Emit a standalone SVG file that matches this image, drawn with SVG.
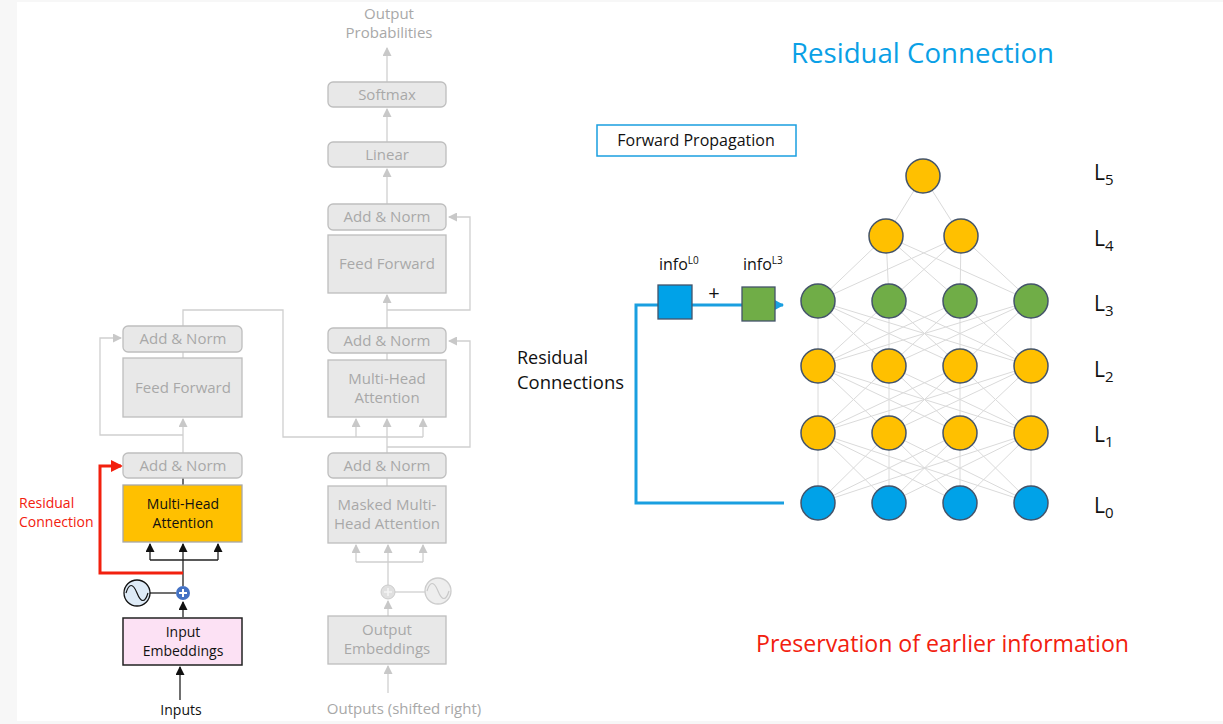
<svg xmlns="http://www.w3.org/2000/svg" width="1223" height="724" viewBox="0 0 1223 724">
<style>
text{font-family:"Open Sans","Noto Sans","Liberation Sans",sans-serif}
.gbox{fill:#E8E8E8;stroke:#BEBEBE;stroke-width:1.3}
.gtxt{fill:#A8A8A8;font-size:15px;text-anchor:middle}
.btxt{fill:#111;font-size:14px;text-anchor:middle}
.gline{stroke:#CFCFCF;fill:none;stroke-width:1.3}
.bline{stroke:#222;fill:none;stroke-width:1.3}
.edge{stroke:#DADADA;fill:none;stroke-width:1}
.orange{fill:#FFC000;stroke:#44546A;stroke-width:1.5}
.green{fill:#70AD47;stroke:#44546A;stroke-width:1.5}
.blue{fill:#00A2E8;stroke:#44546A;stroke-width:1.5}
.lab{fill:#111;font-size:21px}
</style>
<defs>
<marker id="ag" markerUnits="userSpaceOnUse" markerWidth="9" markerHeight="9" refX="8" refY="4.5" orient="auto"><path d="M0,0L9,4.5L0,9z" fill="#C8C8C8"/></marker>
<marker id="ab" markerUnits="userSpaceOnUse" markerWidth="9" markerHeight="9" refX="8" refY="4.5" orient="auto"><path d="M0,0L9,4.5L0,9z" fill="#111"/></marker>
<marker id="ar" markerUnits="userSpaceOnUse" markerWidth="12" markerHeight="12" refX="10" refY="6" orient="auto"><path d="M0,0L12,6L0,12z" fill="#F2200E"/></marker>
<marker id="abl" markerUnits="userSpaceOnUse" markerWidth="11" markerHeight="12" refX="10" refY="6" orient="auto"><path d="M0,0L11,6L0,12z" fill="#1A9FE0"/></marker>
</defs>
<rect x="0" y="0" width="1223" height="724" fill="#F7F7F7"/>
<rect x="17" y="2" width="1206" height="719" fill="#FFFFFF"/>

<g id="connectors">
<line class="gline" x1="183" y1="352" x2="183" y2="358"/>
<polyline class="gline" points="183,435 100,435 100,338 121,338" marker-end="url(#ag)"/>
<line class="gline" x1="183" y1="453" x2="183" y2="419" marker-end="url(#ag)"/>
<polyline class="gline" points="183,326 183,310 283,310 283,437 423,437"/>
<line class="gline" x1="387" y1="82" x2="387" y2="48" marker-end="url(#ag)"/>
<line class="gline" x1="387" y1="142" x2="387" y2="109" marker-end="url(#ag)"/>
<line class="gline" x1="387" y1="204" x2="387" y2="169" marker-end="url(#ag)"/>
<line class="gline" x1="387" y1="328" x2="387" y2="295" marker-end="url(#ag)"/>
<polyline class="gline" points="387,310 470,310 470,217 449,217" marker-end="url(#ag)"/>
<line class="gline" x1="387" y1="353" x2="387" y2="360"/>
<line class="gline" x1="356" y1="437" x2="356" y2="419" marker-end="url(#ag)"/>
<line class="gline" x1="387" y1="453" x2="387" y2="419" marker-end="url(#ag)"/>
<line class="gline" x1="423" y1="437" x2="423" y2="419" marker-end="url(#ag)"/>
<polyline class="gline" points="387,447 470,447 470,341 449,341" marker-end="url(#ag)"/>
<line class="gline" x1="387" y1="478" x2="387" y2="486"/>
<line class="gline" x1="356" y1="562" x2="423" y2="562"/>
<line class="gline" x1="356" y1="562" x2="356" y2="545" marker-end="url(#ag)"/>
<line class="gline" x1="388" y1="585" x2="388" y2="545" marker-end="url(#ag)"/>
<line class="gline" x1="423" y1="562" x2="423" y2="545" marker-end="url(#ag)"/>
<line class="gline" x1="395" y1="592" x2="425" y2="592"/>
<line class="gline" x1="388" y1="616" x2="388" y2="601" marker-end="url(#ag)"/>
<line class="gline" x1="388" y1="693" x2="388" y2="666" marker-end="url(#ag)"/>
<line class="bline" x1="183" y1="478" x2="183" y2="485"/>
<line class="bline" x1="150" y1="560" x2="218" y2="560"/>
<line class="bline" x1="150" y1="560" x2="150" y2="544" marker-end="url(#ab)"/>
<line class="bline" x1="183" y1="586" x2="183" y2="544" marker-end="url(#ab)"/>
<line class="bline" x1="218" y1="560" x2="218" y2="544" marker-end="url(#ab)"/>
<line class="bline" x1="150" y1="593" x2="176" y2="593"/>
<line class="bline" x1="183" y1="617" x2="183" y2="602" marker-end="url(#ab)"/>
<line class="bline" x1="180" y1="700" x2="180" y2="667" marker-end="url(#ab)"/>
<polyline points="183,573 100,573 100,466 121,466" fill="none" stroke="#F2200E" stroke-width="3" marker-end="url(#ar)"/>
<path class="edge" d="M923 176L886 236M923 176L961 236
M886 236L818 301M886 236L889 301M886 236L960 301M886 236L1031 301
M961 236L818 301M961 236L889 301M961 236L960 301M961 236L1031 301
M818 301L818 366M818 301L889 366M818 301L960 366M818 301L1031 366
M889 301L818 366M889 301L889 366M889 301L960 366M889 301L1031 366
M960 301L818 366M960 301L889 366M960 301L960 366M960 301L1031 366
M1031 301L818 366M1031 301L889 366M1031 301L960 366M1031 301L1031 366
M818 366L818 433M818 366L889 433M818 366L960 433M818 366L1031 433
M889 366L818 433M889 366L889 433M889 366L960 433M889 366L1031 433
M960 366L818 433M960 366L889 433M960 366L960 433M960 366L1031 433
M1031 366L818 433M1031 366L889 433M1031 366L960 433M1031 366L1031 433
M818 433L818 503M818 433L889 503M818 433L960 503M818 433L1031 503
M889 433L818 503M889 433L889 503M889 433L960 503M889 433L1031 503
M960 433L818 503M960 433L889 503M960 433L960 503M960 433L1031 503
M1031 433L818 503M1031 433L889 503M1031 433L960 503M1031 433L1031 503"/>
<polyline points="784,503 636,503 636,305 783,305" fill="none" stroke="#1A9FE0" stroke-width="3" marker-end="url(#abl)"/>
</g>

<g id="enc-addnorm-top"><rect class="gbox" x="123" y="326" width="119" height="26" rx="5"/><text class="gtxt" x="183" y="344">Add &amp; Norm</text></g>
<g id="enc-ff"><rect class="gbox" x="123" y="358" width="119" height="59"/><text class="gtxt" x="183" y="393">Feed Forward</text></g>
<g id="enc-addnorm"><rect class="gbox" x="123" y="453" width="119" height="25" rx="5"/><text class="gtxt" x="183" y="471">Add &amp; Norm</text></g>
<g id="enc-mha"><rect x="123" y="485" width="119" height="57" fill="#FFC000" stroke="#A8A8A8" stroke-width="1.3"/><text class="btxt" x="183" y="509">Multi-Head</text><text class="btxt" x="183" y="528">Attention</text></g>
<g id="enc-posenc"><circle cx="137" cy="593" r="13" fill="#DEEBF7" stroke="#111" stroke-width="1.3"/><path d="M126,593 C129,583 133,583 137,593 C141,603 145,603 148,593" fill="none" stroke="#111" stroke-width="1.2"/></g>
<g id="enc-plus"><circle cx="183" cy="593" r="7" fill="#4472C4"/><path d="M179,593H187M183,589V597" stroke="#fff" stroke-width="2"/></g>
<g id="enc-emb"><rect x="123" y="618" width="119" height="47" fill="#FCE1F4" stroke="#222" stroke-width="1.5"/><text class="btxt" x="183" y="637">Input</text><text class="btxt" x="183" y="656">Embeddings</text></g>
<g id="enc-inputs"><text class="btxt" x="181" y="715">Inputs</text></g>
<g id="residual-label"><text x="19" y="508" fill="#F2200E" font-size="14">Residual</text><text x="19" y="527" fill="#F2200E" font-size="14">Connection</text></g>

<g id="dec-out"><text class="gtxt" x="389" y="19">Output</text><text class="gtxt" x="389" y="38">Probabilities</text></g>
<g id="dec-softmax"><rect class="gbox" x="328" y="82" width="118" height="25" rx="5"/><text class="gtxt" x="387" y="100">Softmax</text></g>
<g id="dec-linear"><rect class="gbox" x="328" y="142" width="118" height="25" rx="5"/><text class="gtxt" x="387" y="160">Linear</text></g>
<g id="dec-addnorm-top"><rect class="gbox" x="328" y="204" width="118" height="26" rx="5"/><text class="gtxt" x="387" y="222">Add &amp; Norm</text></g>
<g id="dec-ff"><rect class="gbox" x="328" y="235" width="118" height="58"/><text class="gtxt" x="387" y="269">Feed Forward</text></g>
<g id="dec-addnorm-mid"><rect class="gbox" x="328" y="328" width="118" height="25" rx="5"/><text class="gtxt" x="387" y="346">Add &amp; Norm</text></g>
<g id="dec-mha"><rect class="gbox" x="328" y="360" width="118" height="57"/><text class="gtxt" x="387" y="384">Multi-Head</text><text class="gtxt" x="387" y="403">Attention</text></g>
<g id="dec-addnorm-bot"><rect class="gbox" x="328" y="453" width="118" height="25" rx="5"/><text class="gtxt" x="387" y="471">Add &amp; Norm</text></g>
<g id="dec-masked"><rect class="gbox" x="328" y="486" width="118" height="57"/><text class="gtxt" x="387" y="510">Masked Multi-</text><text class="gtxt" x="387" y="529">Head Attention</text></g>
<g id="dec-plus"><circle cx="388" cy="592" r="7" fill="#E0E0E0" stroke="#CCCCCC"/><path d="M384,592H392M388,588V596" stroke="#F4F4F4" stroke-width="1.6"/></g>
<g id="dec-posenc"><circle cx="438" cy="591" r="13" fill="#EEEEEE" stroke="#CCCCCC" stroke-width="1.3"/><path d="M427,591 C430,581 434,581 438,591 C442,601 446,601 449,591" fill="none" stroke="#C8C8C8" stroke-width="1.2"/></g>
<g id="dec-emb"><rect class="gbox" x="328" y="616" width="118" height="48"/><text class="gtxt" x="387" y="635">Output</text><text class="gtxt" x="387" y="654">Embeddings</text></g>
<g id="dec-outputs"><text class="gtxt" x="404" y="714">Outputs (shifted right)</text></g>

<g id="title"><text x="791" y="63" fill="#0AA0E6" font-size="27" textLength="263" lengthAdjust="spacingAndGlyphs">Residual Connection</text></g>
<g id="forward-prop"><rect x="597" y="125" width="199" height="31" fill="#fff" stroke="#1A9FE0" stroke-width="1.5"/><text x="696" y="146" fill="#111" font-size="16" text-anchor="middle">Forward Propagation</text></g>
<g id="residual-connections-label"><text x="517" y="364" fill="#111" font-size="18">Residual</text><text x="517" y="389" fill="#111" font-size="18" textLength="107" lengthAdjust="spacingAndGlyphs">Connections</text></g>
<g id="info-l0"><text x="659" y="270" fill="#111" font-size="16">info<tspan font-size="10" dy="-6">L0</tspan></text><rect x="658" y="285" width="34" height="34" fill="#00A2E8" stroke="#44546A" stroke-width="1.3"/></g>
<g id="plus-sign"><text x="714" y="300" fill="#111" font-size="20" text-anchor="middle">+</text></g>
<g id="info-l3"><text x="743" y="270" fill="#111" font-size="16">info<tspan font-size="10" dy="-6">L3</tspan></text><rect x="742" y="287" width="33" height="34" fill="#70AD47" stroke="#44546A" stroke-width="1.3"/></g>

<g id="n5"><circle class="orange" cx="923" cy="176" r="17"/></g>
<g id="n4a"><circle class="orange" cx="886" cy="236" r="17"/></g>
<g id="n4b"><circle class="orange" cx="961" cy="236" r="17"/></g>
<g id="n3a"><circle class="green" cx="818" cy="301" r="17"/></g>
<g id="n3b"><circle class="green" cx="889" cy="301" r="17"/></g>
<g id="n3c"><circle class="green" cx="960" cy="301" r="17"/></g>
<g id="n3d"><circle class="green" cx="1031" cy="301" r="17"/></g>
<g id="n2a"><circle class="orange" cx="818" cy="366" r="17"/></g>
<g id="n2b"><circle class="orange" cx="889" cy="366" r="17"/></g>
<g id="n2c"><circle class="orange" cx="960" cy="366" r="17"/></g>
<g id="n2d"><circle class="orange" cx="1031" cy="366" r="17"/></g>
<g id="n1a"><circle class="orange" cx="818" cy="433" r="17"/></g>
<g id="n1b"><circle class="orange" cx="889" cy="433" r="17"/></g>
<g id="n1c"><circle class="orange" cx="960" cy="433" r="17"/></g>
<g id="n1d"><circle class="orange" cx="1031" cy="433" r="17"/></g>
<g id="n0a"><circle class="blue" cx="818" cy="503" r="17"/></g>
<g id="n0b"><circle class="blue" cx="889" cy="503" r="17"/></g>
<g id="n0c"><circle class="blue" cx="960" cy="503" r="17"/></g>
<g id="n0d"><circle class="blue" cx="1031" cy="503" r="17"/></g>

<g id="layer-labels">
<text class="lab" x="1094" y="180">L<tspan font-size="15" dy="5">5</tspan></text>
<text class="lab" x="1094" y="246">L<tspan font-size="15" dy="5">4</tspan></text>
<text class="lab" x="1094" y="311">L<tspan font-size="15" dy="5">3</tspan></text>
<text class="lab" x="1094" y="377">L<tspan font-size="15" dy="5">2</tspan></text>
<text class="lab" x="1094" y="442">L<tspan font-size="15" dy="5">1</tspan></text>
<text class="lab" x="1094" y="513">L<tspan font-size="15" dy="5">0</tspan></text>
</g>
<g id="preservation"><text x="756" y="652" fill="#F2200E" font-size="24" textLength="373" lengthAdjust="spacingAndGlyphs">Preservation of earlier information</text></g>
</svg>
